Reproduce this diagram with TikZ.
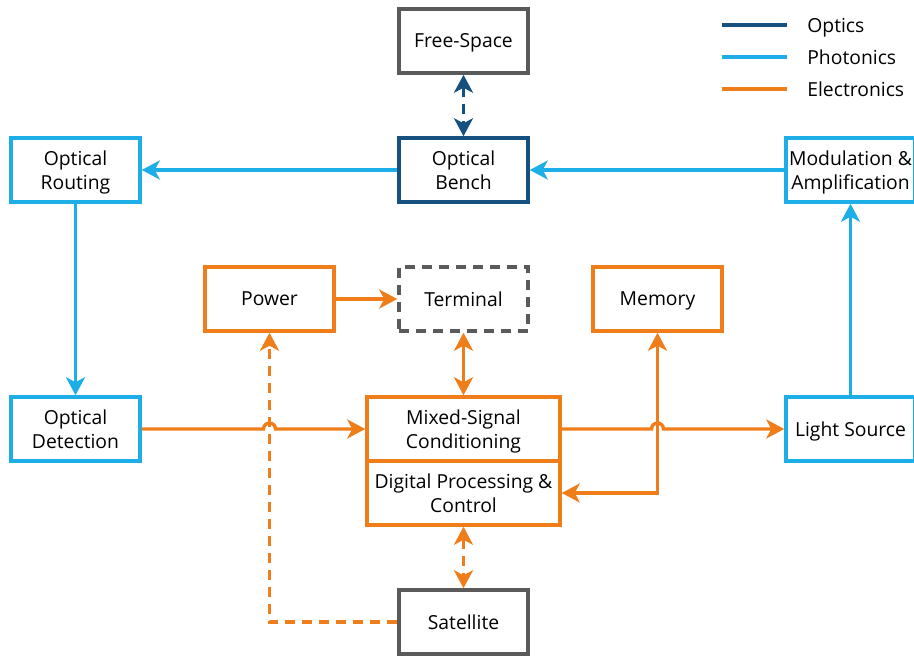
\documentclass[tikz,border=0pt]{standalone}
\usepackage{fontspec}
\setmainfont{Open Sans}
\usetikzlibrary{calc}
\usetikzlibrary{arrows.meta}

\definecolor{optics}{HTML}{16507E}
\definecolor{photonics}{HTML}{1DAEE8}
\definecolor{electronics}{HTML}{EF7D1A}
\definecolor{neutral}{HTML}{5A5A5A}

\begin{document}
\begin{tikzpicture}[x=0.02cm,y=-0.02cm,
    >={Stealth[length=0.36cm,width=0.38cm,inset=0.1cm]},
    block/.style={draw,line width=2pt,fill=white,minimum width=2.58cm,
      minimum height=1.28cm,inner sep=0pt,align=center,text depth=0pt,
      font=\fontsize{11}{13.6}\selectfont},
    link/.style={line width=1.9pt},
    dashlink/.style={line width=1.9pt,dash pattern=on 0.2cm off 0.14cm}]
    \path[use as bounding box] (0,0) rectangle (914,656);
    % Optics.
    \node[block,draw=neutral] (free) at (463.5,41) {Free-Space};
    \node[block,draw=optics] (bench) at (463.5,170) {Optical\\Bench};
    % Photonics.
    \node[block,draw=photonics] (rout) at (75.5,170) {Optical\\Routing};
    \node[block,draw=photonics] (mod) at (850.5,170) {Modulation \&\\Amplification};
    \node[block,draw=photonics] (det) at (75.5,429) {Optical\\Detection};
    \node[block,draw=photonics] (light) at (850.5,429) {Light Source};
    % Electronics.
    \node[block,draw=electronics] (power) at (269.5,299) {Power};
    \node[block,draw=neutral,dash pattern=on 0.2cm off 0.14cm] (term) at (463.5,299) {Terminal};
    \node[block,draw=electronics] (mem) at (657.5,299) {Memory};
    \node[block,draw=electronics,minimum width=3.86cm] (mix) at (463.5,429) {Mixed-Signal\\Conditioning};
    \node[block,draw=electronics,minimum width=3.86cm] (dig) at (463.5,493) {Digital Processing \&\\Control};
    \node[block,draw=neutral] (sat) at (463.5,622) {Satellite};
    % Optical links.
    \draw[dashlink,optics,<->] (free) -- (bench);
    \draw[link,photonics,->] (bench) -- (rout);
    \draw[link,photonics,->] (mod) -- (bench);
    \draw[link,photonics,->] (rout) -- (det);
    \draw[link,photonics,->] (light) -- (mod);
    % Electrical links.
    \draw[link,electronics,->] (det.east) -- ($(power.south |- det.east)+(-6,0)$)
      arc[start angle=180,end angle=0,radius=0.12cm] -- (mix.west);
    \draw[link,electronics,->] (mix.east) -- ($(mem.south |- mix.east)+(-6,0)$)
      arc[start angle=180,end angle=0,radius=0.12cm] -- (light.west);
    \draw[link,electronics,->] (power) -- (term);
    \draw[link,electronics,<->] (term) -- (mix);
    \draw[link,electronics,<->] (dig.east) -| (mem.south);
    \draw[dashlink,electronics,<->] (dig) -- (sat);
    \draw[dashlink,electronics,->] (sat.west) -| (power.south);
    % Legend.
    \foreach \y/\c/\t in {25/optics/Optics, 57/photonics/Photonics, 89/electronics/Electronics}
    {
      \draw[link,\c] (722,\y) -- (787,\y);
      \node[anchor=west,inner sep=0pt,text depth=0pt,font=\fontsize{11}{13.6}\selectfont] (key-\c) at (807,\y) {\t};
    }
\end{tikzpicture}
\end{document}
